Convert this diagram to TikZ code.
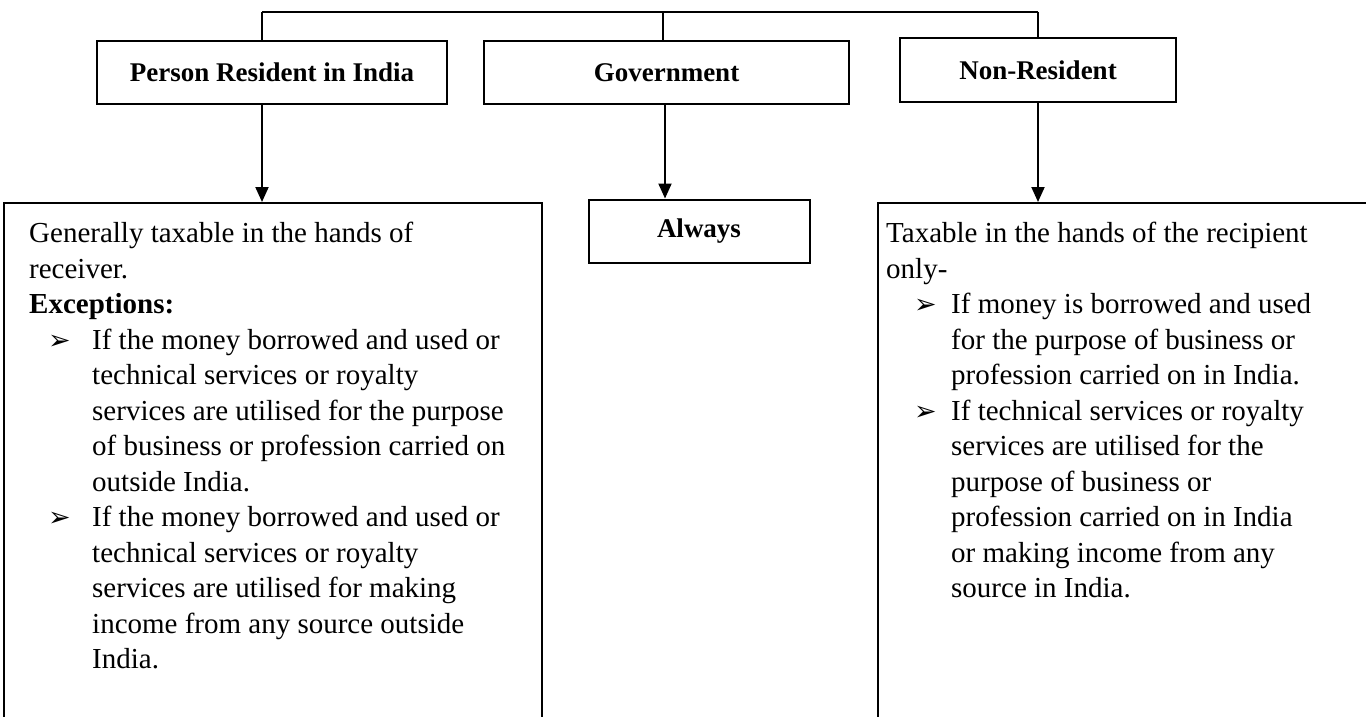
\documentclass[tikz,border=0pt]{standalone}
\usepackage{fontspec}
\setmainfont{Liberation Serif}
\newfontfamily\dingfont{DejaVu Sans}
\usetikzlibrary{arrows.meta}
% arrowhead bullet used in the lists
\newcommand{\arrbul}{{\dingfont\fontsize{27}{27}\selectfont ➢}}
\newcommand{\bulline}[1]{\hspace*{19pt}\makebox[44pt][l]{\arrbul}#1}
\newcommand{\contline}[1]{\hspace*{63pt}#1}
\newcommand{\rbulline}[1]{\hspace*{28pt}\makebox[37pt][l]{\arrbul}#1}
\newcommand{\rcontline}[1]{\hspace*{65pt}#1}

\begin{document}
\begin{tikzpicture}[x=1pt,y=-1pt,
  every node/.style={font=\fontsize{29}{35.5}\selectfont},
  head/.style={draw, line width=2pt, font=\fontsize{27}{32}\selectfont\bfseries,
               minimum height=63pt, inner sep=0pt},
  panel/.style={draw, line width=2pt, anchor=north west, inner sep=0pt},
  body/.style={anchor=north west, align=left, inner sep=0pt},
  link/.style={line width=1.6pt},
  flow/.style={line width=2pt, -{Triangle[width=13pt,length=15pt]}}
]
\useasboundingbox (0,0) rectangle (1366,717);

% top row of categories
\node[head, minimum width=350pt] (pri) at (272,72.5) {Person Resident in India};
\node[head, minimum width=365pt] (gov) at (666.5,72.5) {Government};
\node[head, minimum width=276pt] (nr)  at (1038,70) {Non-Resident};

% joining bus above the categories
\coordinate (busL) at (262,12);
\coordinate (busM) at (663,12);
\coordinate (busR) at (1038,12);
\coordinate (govdrop) at (665,12);
\draw[link] (busL) -- (busR);
\draw[link] (busL) -- (busL |- pri.north);
\draw[link] (busM) -- (busM |- gov.north);
\draw[link] (busR) -- (busR |- nr.north);

% result panels, open below (and on the right for the last one)
\node[panel, minimum width=538pt, minimum height=600pt] (pres) at (3,202) {};
\node[head, minimum width=221pt] (alw) at (699,231) {Always};
\node[panel, minimum width=560pt, minimum height=600pt] (nres) at (877,202) {};

% arrows from each category down to its result
\draw[flow] (busL |- pri.south) -- (busL |- pres.north);
\draw[flow] (govdrop |- gov.south) -- (govdrop |- alw.north);
\draw[flow] (busR |- nr.south) -- (busR |- nres.north);

% panel texts
\node[body] (prestext) at (29,222) {%
Generally taxable in the hands of\\
receiver.\\
\textbf{Exceptions:}\\
\bulline{If the money borrowed and used or}\\
\contline{technical services or royalty}\\
\contline{services are utilised for the purpose}\\
\contline{of business or profession carried on}\\
\contline{outside India.}\\
\bulline{If the money borrowed and used or}\\
\contline{technical services or royalty}\\
\contline{services are utilised for making}\\
\contline{income from any source outside}\\
\contline{India.}};

\node[body] (nrestext) at (886,222) {%
Taxable in the hands of the recipient\\
only-\\
\rbulline{If money is borrowed and used}\\
\rcontline{for the purpose of business or}\\
\rcontline{profession carried on in India.}\\
\rbulline{If technical services or royalty}\\
\rcontline{services are utilised for the}\\
\rcontline{purpose of business or}\\
\rcontline{profession carried on in India}\\
\rcontline{or making income from any}\\
\rcontline{source in India.}};
\end{tikzpicture}
\end{document}
